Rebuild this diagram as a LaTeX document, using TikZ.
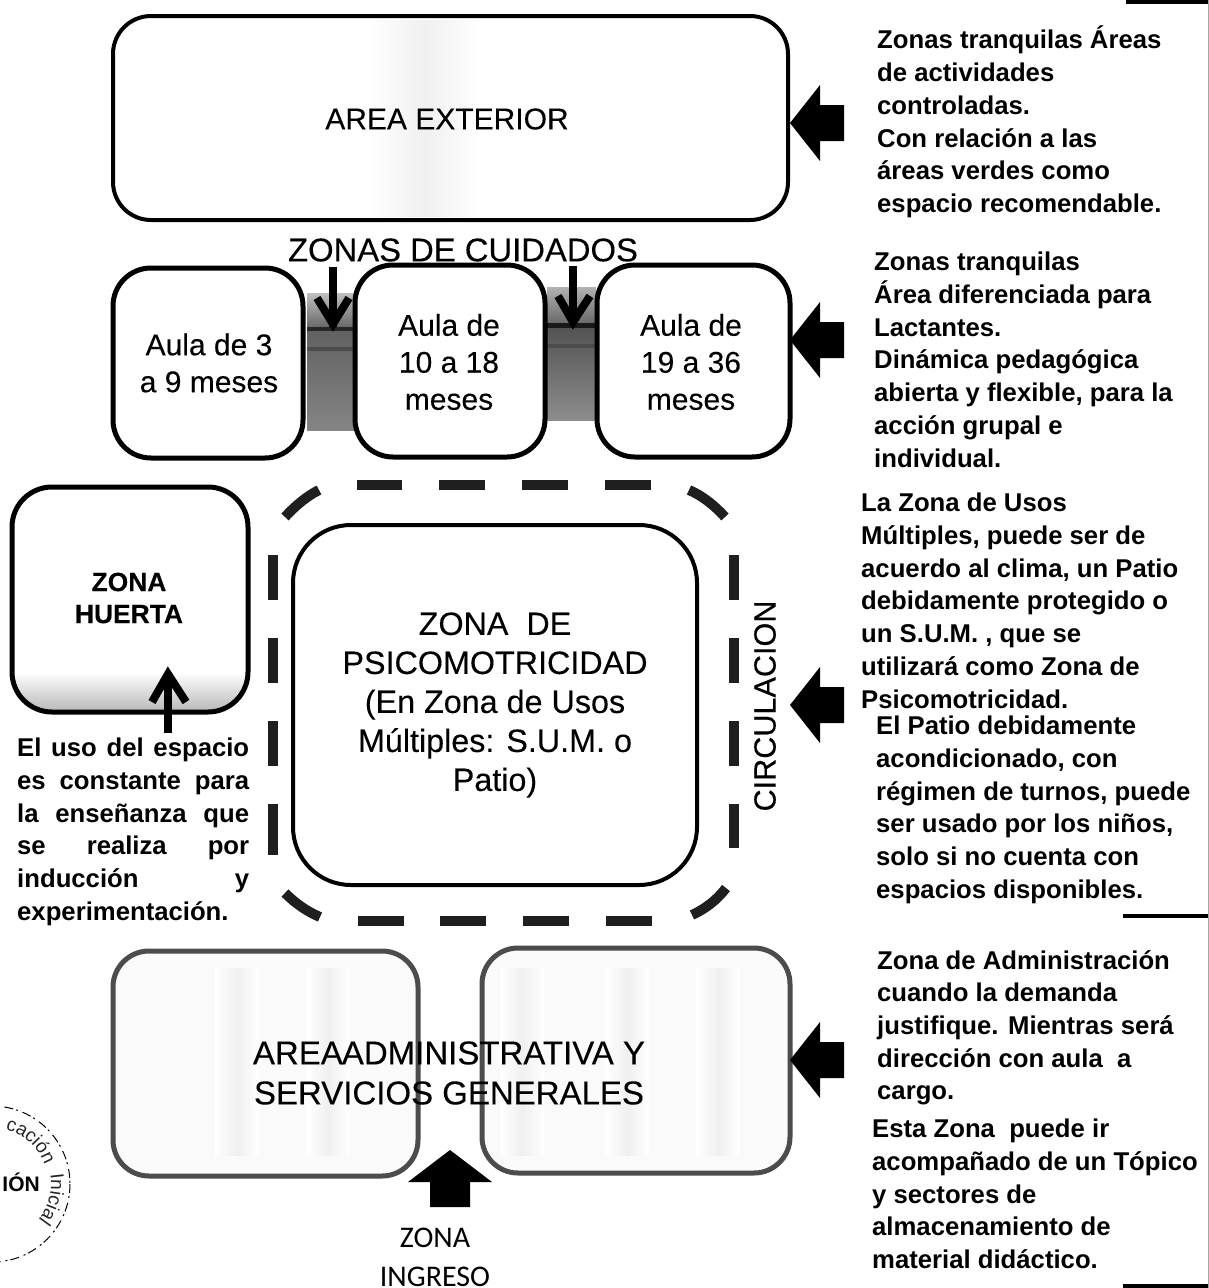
\documentclass[tikz,border=0pt]{standalone}
\usepackage{fontspec}
\setmainfont{Liberation Sans}
\newfontfamily\calib{Carlito}
\newfontfamily\heavy[FakeBold=0.2]{Liberation Sans}
\usetikzlibrary{decorations.text}
\tikzset{
  x=1pt,y=-1pt,
  room/.style={draw=black,line width=5pt,rounded corners=38pt,inner sep=0pt,outer sep=0pt,anchor=north west},
  faint/.style={draw=black!70,line width=5pt,rounded corners=36pt,inner sep=0pt,outer sep=0pt,anchor=north west},
  dashseg/.style={line width=10pt,black!88},
  big/.style={font=\heavy\fontsize{30}{37}\selectfont,align=center},
  note/.style={font=\fontsize{25.7}{32.7}\selectfont\bfseries,align=left,anchor=north west,inner sep=0pt},
  thinarrow/.style={draw=black,line width=8pt},
  strip/.style={left color=white,right color=white,middle color=black!6,draw=none}
}
\newcommand{\leftarrowblock}[2]{\fill[black] (#1,#2) -- (#1+30,#2-38) -- (#1+30,#2-18) -- (#1+54,#2-18) -- (#1+54,#2+18) -- (#1+30,#2+18) -- (#1+30,#2+38) -- cycle;}
\newcommand{\jline}[1]{\makebox[232pt][s]{#1}}
\begin{document}
\begin{tikzpicture}
\useasboundingbox (0,0) rectangle (1209,1288);
\clip (0,0) rectangle (1209,1288);
% texture
\shade[strip] (370,20) rectangle (480,216);
\shade[top color=black!25,bottom color=black!60] (307,293) rectangle (355,328);
\shade[top color=black!62,bottom color=black!48] (307,328) rectangle (355,430);
\shade[top color=black!30,bottom color=black!60] (547,287) rectangle (596,325);
\shade[top color=black!68,bottom color=black!45] (547,325) rectangle (596,420);
\fill[black!85] (307,327) rectangle (355,331);
\fill[black!70] (307,347) rectangle (355,351);
\fill[black!90] (547,323) rectangle (596,328);
\fill[black!70] (547,344) rectangle (596,348);
\begin{scope}
\clip[rounded corners=38pt] (12,487) rectangle (248,712);
\shade[top color=white,bottom color=black!28] (12,672) rectangle (248,712);
\end{scope}
% boxes
\node[room,line width=4pt,minimum width=675pt,minimum height=204pt] (ext) at (113,16) {};
\node[font=\heavy\fontsize{30}{36}\selectfont] (exttxt) at (447,119) {AREA EXTERIOR};
\node[room,minimum width=190pt,minimum height=190pt] (a1) at (113,268) {};
\node[room,minimum width=190pt,minimum height=192pt] (a2) at (355,265) {};
\node[room,minimum width=193pt,minimum height=192pt] (a3) at (597,265) {};
\node[big] at (209,363) {Aula de 3\\a 9 meses};
\node[big] at (449,362) {Aula de\\10 a 18\\meses};
\node[big] at (691,362) {Aula de\\19 a 36\\meses};
\node[font=\heavy\fontsize{32.8}{36}\selectfont] (zc) at (463,250) {ZONAS DE CUIDADOS};
\draw[thinarrow] (333,267) -- (333,327);
\draw[line width=8pt,line join=miter] (317,298) -- (333,324) -- (349,298);
\draw[thinarrow] (573,266) -- (573,325);
\draw[line width=8pt,line join=miter] (558,296) -- (573,322) -- (590,296);
\node[room,rounded corners=40pt,minimum width=236pt,minimum height=225pt] (hu) at (12,487) {};
\node[font=\heavy\fontsize{26.4}{32}\selectfont\bfseries,align=center] at (129,598) {ZONA\\HUERTA};
\draw[thinarrow] (168,733) -- (168,676);
\draw[line width=8pt,line join=miter] (152,702) -- (168,674) -- (186,702);
\node[room,line width=4pt,rounded corners=58pt,minimum width=404pt,minimum height=360pt] (psi) at (293,525) {};
\node[big,font=\heavy\fontsize{32.3}{39}\selectfont] at (495,705) {ZONA\ \ DE\\PSICOMOTRICIDAD\\(En Zona de Usos\\Múltiples: S.U.M. o\\Patio)};
% circulation dashes
\foreach \a/\b in {357/402,439/485,522/568,605/651} \draw[dashseg] (\a,485) -- (\b,485);
\foreach \a/\b in {358/404,440/486,523/569,606/652} \draw[dashseg] (\a,921) -- (\b,921);
\foreach \a/\b in {555/600,638/683,721/766,804/855} \draw[dashseg] (273,\a) -- (273,\b);
\foreach \a/\b in {555/600,638/683,721/766,804/848} \draw[dashseg] (734,\a) -- (734,\b);
\draw[dashseg] (285,517) .. controls (295,506) and (307,496) .. (319,490);
\draw[dashseg] (689,490) .. controls (703,496) and (715,506) .. (725,517);
\draw[dashseg] (285,893) .. controls (296,904) and (308,912) .. (320,917);
\draw[dashseg] (692,915) .. controls (705,909) and (717,900) .. (726,888);
\node[font=\heavy\fontsize{30.6}{34}\selectfont,rotate=90] (circ) at (765,706) {CIRCULACION};
% admin boxes
\node[faint,fill=black!2,minimum width=305pt,minimum height=225pt] (b1) at (113,951) {};
\node[faint,fill=black!2,minimum width=308pt,minimum height=225pt] (b2) at (482,948) {};
\foreach \a in {237,328,522,627,718} \shade[strip] (\a-22,968) rectangle (\a+22,1155);
\node[big,font=\heavy\fontsize{33}{40}\selectfont] at (449,1073) {AREA\kern-1pt ADMINISTRATIVA Y\\SERVICIOS GENERALES};
% ingreso
\fill[black] (450,1150) -- (492,1182) -- (470,1182) -- (470,1207) -- (430,1207) -- (430,1182) -- (408,1182) -- cycle;
\node[font=\calib\fontsize{30}{39}\selectfont,align=center] at (435,1257) {ZONA\\INGRESO};
% right arrows
\leftarrowblock{790}{123}
\leftarrowblock{790}{340}
\leftarrowblock{790}{705}
\leftarrowblock{790}{1060}
% right texts
\node[note] (t1) at (877,26) {Zonas tranquilas Áreas\\de actividades\\controladas.\\Con relación a las\\áreas verdes como\\espacio recomendable.};
\node[note] (t2) at (874,252) {Zonas tranquilas\\Área diferenciada para\\Lactantes.\\Dinámica pedagógica\\abierta y flexible, para la\\acción grupal e\\individual.};
\node[note] (t3) at (861,493) {La Zona de Usos\\Múltiples, puede ser de\\acuerdo al clima, un Patio\\debidamente protegido o\\un S.U.M. , que se\\utilizará como Zona de\\Psicomotricidad.};
\node[note] (t4) at (876,716) {El Patio debidamente\\acondicionado, con\\régimen de turnos, puede\\ser usado por los niños,\\solo si no cuenta con\\espacios disponibles.};
\node[note] (t5) at (877,950) {Zona de Administración\\cuando la demanda\\justifique. Mientras será\\dirección con aula\ \ a\\cargo.};
\node[note] (t6) at (872,1119) {Esta Zona\ \ puede ir\\acompañado de un Tópico\\y sectores de\\almacenamiento de\\material didáctico.};
\node[note] (t7) at (17,738) {\jline{El uso del espacio}\\\jline{es constante para}\\\jline{la enseñanza que}\\\jline{se realiza por}\\\jline{inducción y}\\experimentación.};
% edge marks
\fill[black] (1126,0) rectangle (1209,4);
\fill[black] (1123,914) rectangle (1209,918);
\fill[black] (1123,1284) rectangle (1209,1288);
\draw[black!35,line width=1pt] (1208,0) -- (1208,1288);
% stamp
\draw[line width=1pt,dash pattern=on 9pt off 3pt on 2pt off 5pt] (-8,1184) circle (78);
\node[font=\fontsize{21}{22}\selectfont\bfseries,anchor=east,inner sep=0pt] (st) at (40,1182) {IÓN};
\path[decorate,decoration={text along path,text align=center,text color=black!85,text={|\fontsize{19}{20}\selectfont|cación}}] (3.6,1129.2) arc[start angle=-78,end angle=-18,radius=56];
\path[decorate,decoration={text along path,text align=center,text color=black!85,text={|\fontsize{19}{20}\selectfont|Inicial}}] (49.9,1172.7) arc[start angle=-11,end angle=40,radius=59];
\end{tikzpicture}
\end{document}
